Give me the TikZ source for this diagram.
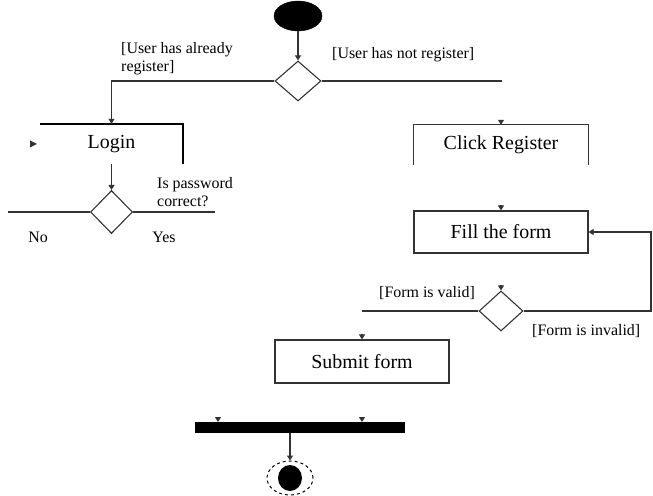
\documentclass[tikz,border=0pt]{standalone}
\usepackage{fontspec}
\setmainfont{Liberation Serif}
\usetikzlibrary{shapes.geometric,arrows.meta}
\begin{document}
\begin{tikzpicture}[x=1bp,y=-1bp,
  ln/.style={draw=black!80,line width=1.1bp},
  arr/.style={ln,-{Triangle[width=6bp,length=5bp]}},
  boxtxt/.style={font=\fontsize{20}{24}\selectfont},
  lbl/.style={font=\fontsize{16}{18}\selectfont,inner sep=0pt,align=left},
  dec/.style={diamond,draw=black!80,line width=1.1bp,inner sep=0pt},
  act/.style={rectangle,inner sep=0pt,boxtxt}]
\useasboundingbox (0,0) rectangle (653,496);
% nodes
\node[ellipse,fill=black,draw=black,minimum width=48bp,minimum height=30bp,inner sep=0pt] (start) at (298,16) {};
\node[dec,minimum width=46bp,minimum height=40bp] (d1) at (298,81) {};
\node[act,minimum width=143bp,minimum height=40bp] (login) at (111.5,144) {Login};
\node[dec,minimum width=42bp,minimum height=43bp] (d2) at (111.5,212) {};
\node[act,minimum width=174bp,minimum height=40bp] (click) at (501,145) {Click Register};
\node[act,draw=black!80,line width=1.1bp,minimum width=174bp,minimum height=42bp] (fill) at (501,232) {Fill the form};
\node[dec,minimum width=44bp,minimum height=40bp] (d3) at (501,311) {};
\node[act,draw=black!80,line width=1.1bp,minimum width=174bp,minimum height=43bp] (submit) at (362,361.5) {Submit form};
\node[rectangle,fill=black,minimum width=210bp,minimum height=11bp,inner sep=0pt] (bar) at (300,427.5) {};
\node[ellipse,draw=black,dashed,line width=1bp,minimum width=46bp,minimum height=34bp,inner sep=0pt] (final) at (290,478) {};
\fill (final.center) ellipse [x radius=12bp, y radius=13bp];
% partial box outlines
\draw[ln,draw=black,line width=1.5bp] (login.north west) -- (login.north east) -- (login.south east);
\fill[black!80] (30,140.5) -- (37,144) -- (30,147.5) -- cycle;
\draw[ln] (click.south west) -- (click.north west) -- (click.north east) -- (click.south east);
% connectors
\coordinate (rr) at (502,81);
\coordinate (ll) at (8,212);
\coordinate (lr) at (215,212);
\coordinate (vl) at (362,311);
\coordinate (b1) at (218,422);
\coordinate (b2) at (362,422);
\draw[arr] (start) -- (d1);
\draw[arr] (d1.west) -| (login.north);
\draw[ln] (d1.east) -- (rr);
\draw[arr] ([yshift=5bp]click.north) -- (click.north);
\draw[arr] (login.south) -- (d2.north);
\draw[ln] (d2.west) -- (ll);
\draw[ln] (d2.east) -- (lr);
\draw[arr] ([yshift=5bp]fill.north) -- (fill.north);
\draw[arr] ([yshift=5bp]d3.north) -- (d3.north);
\draw[arr] (d3.east) -- (651,311) |- (fill.east);
\draw[ln] (d3.west) -- (vl);
\draw[arr] ([yshift=5bp]submit.north) -- (submit.north);
\draw[arr] ([yshift=5bp]b1) -- (b1);
\draw[arr] ([yshift=5bp]b2) -- (b2);
\draw[arr] (bar.south -| final.north) -- (final.north);
% labels
\node[lbl,anchor=west] (l1) at (121,59) {[User has already\\register]};
\node[lbl,anchor=west] (l2) at (332,55) {[User has not register]};
\node[lbl,anchor=west] (l3) at (157,192) {Is password\\correct?};
\node[lbl] (l4) at (38,237) {No};
\node[lbl] (l5) at (164,237) {Yes};
\node[lbl,anchor=west] (l6) at (379,293) {[Form is valid]};
\node[lbl,anchor=west] (l7) at (532,331) {[Form is invalid]};
\end{tikzpicture}
\end{document}
